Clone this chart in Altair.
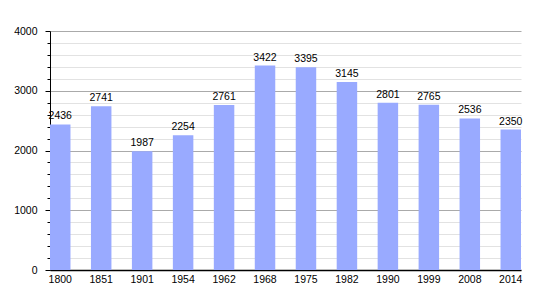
import altair as alt
import pandas as pd

years = ["1800", "1851", "1901", "1954", "1962", "1968", "1975", "1982", "1990", "1999", "2008", "2014"]
population = [2436, 2741, 1987, 2254, 2761, 3422, 3395, 3145, 2801, 2765, 2536, 2350]
y_ticks = list(range(0, 4001, 200))

df = pd.DataFrame({"year": years, "pop": population})

FONT = "Liberation Sans"
FS = 10.5

x = alt.X("year:N", sort=years, title=None,
          scale=alt.Scale(paddingInner=0.5, paddingOuter=0),
          axis=alt.Axis(labelAngle=0, ticks=False, grid=False, domainColor="#000000", domainWidth=1.5,
                        labelFont=FONT, labelFontSize=FS, labelColor="#000000", labelPadding=4))
y = alt.Y("pop:Q", title=None,
          scale=alt.Scale(domain=[0, 4000], nice=False),
          axis=alt.Axis(values=y_ticks, format="d", labelOverlap=False, tickCount=len(y_ticks), grid=True,
                        labelExpr="datum.value % 1000 === 0 ? datum.label : ''",
                        gridColor={"condition": {"test": "datum.value % 1000 === 0", "value": "#aaaaaa"}, "value": "#e2e2e2"},
                        tickSize={"condition": {"test": "datum.value % 1000 === 0", "value": 5}, "value": 3},
                        tickColor="#000000", domainColor="#000000", domainWidth=1,
                        labelFont=FONT, labelFontSize=FS, labelColor="#000000", labelPadding=8))

base = alt.Chart(df).encode(x=x, y=y)
bars = base.mark_bar(color="#99aaff")
labels = base.mark_text(baseline="alphabetic", dy=-5, font=FONT, fontSize=FS, color="#000000").encode(text="pop:Q")

chart = (bars + labels).properties(
    width=471, height=239,
    autosize=alt.AutoSizeParams(type="none"),
    padding={"left": 50, "top": 31, "right": 29, "bottom": 30},
).configure_view(stroke=None)

chart.save("out.html", embed_options={"renderer": "svg", "actions": False})
